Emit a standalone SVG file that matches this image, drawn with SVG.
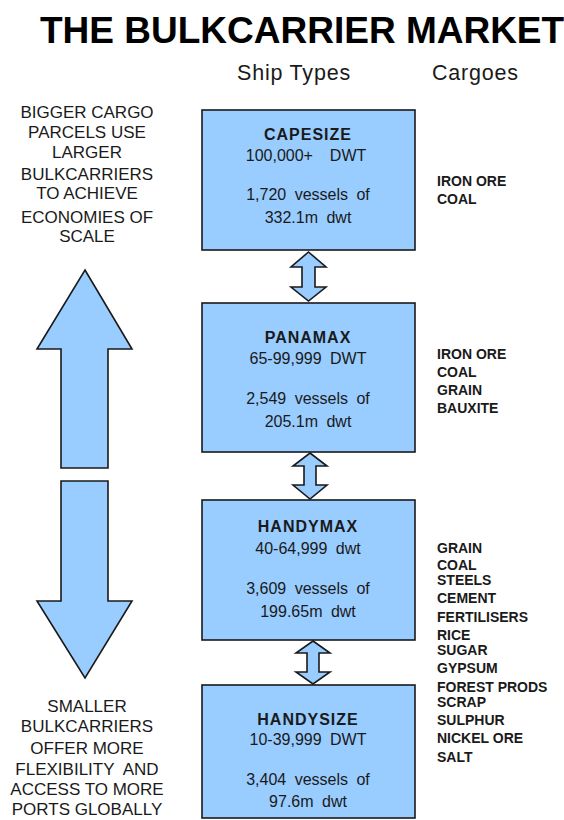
<svg xmlns="http://www.w3.org/2000/svg" width="564" height="820" viewBox="0 0 564 820">
  <style>
    text { font-family: "Liberation Sans", Arial, Helvetica, sans-serif; fill: #1a1a1a; }
    .title { font-size: 37px; font-weight: bold; fill: #000; }
    .head { font-size: 21.5px; letter-spacing: 0.8px; }
    .side { font-size: 17px; text-anchor: middle; }
    .box { fill: #99ccff; stroke: #1a1a1a; stroke-width: 1.6; }
    .arrow { fill: #99ccff; stroke: #1a1a1a; stroke-width: 1.6; stroke-linejoin: miter; }
    .name { font-size: 16px; font-weight: bold; text-anchor: middle; letter-spacing: 1px; }
    .info { font-size: 16px; text-anchor: middle; word-spacing: 4px; }
    .cargo { font-size: 14px; font-weight: bold; }
  </style>

  <!-- heading -->
  <text class="title" x="40" y="43">THE BULKCARRIER MARKET</text>
  <text class="head" x="237" y="80">Ship Types</text>
  <text class="head" x="432" y="80">Cargoes</text>

  <!-- left-hand commentary -->
  <g id="note-larger">
    <text class="side" x="87" y="118">BIGGER CARGO</text>
    <text class="side" x="87" y="138">PARCELS USE</text>
    <text class="side" x="87" y="158">LARGER</text>
    <text class="side" x="87" y="180">BULKCARRIERS</text>
    <text class="side" x="87" y="199">TO ACHIEVE</text>
    <text class="side" x="87" y="223">ECONOMIES OF</text>
    <text class="side" x="87" y="242">SCALE</text>
  </g>
  <g id="arrow-up">
    <polygon class="arrow" points="85,270 132,349 108,349 108,468 61,468 61,349 37,349"/>
  </g>
  <g id="arrow-down">
    <polygon class="arrow" points="61,481 108,481 108,601 132,601 85,678 37,601 61,601"/>
  </g>
  <g id="note-smaller">
    <text class="side" x="87" y="712">SMALLER</text>
    <text class="side" x="87" y="732">BULKCARRIERS</text>
    <text class="side" x="87" y="754">OFFER MORE</text>
    <text class="side" x="87" y="775" xml:space="preserve">FLEXIBILITY  AND</text>
    <text class="side" x="87" y="795">ACCESS TO MORE</text>
    <text class="side" x="87" y="815">PORTS GLOBALLY</text>
  </g>

  <!-- ship type boxes -->
  <g id="capesize">
    <rect class="box" x="202" y="110" width="213" height="140"/>
    <text class="name" x="308" y="140">CAPESIZE</text>
    <text class="info" x="306" y="161" xml:space="preserve">100,000+  DWT</text>
    <text class="info" x="308" y="200">1,720 vessels of</text>
    <text class="info" x="308" y="223">332.1m dwt</text>
  </g>
  <g id="panamax">
    <rect class="box" x="202" y="303" width="213" height="149"/>
    <text class="name" x="308" y="343">PANAMAX</text>
    <text class="info" x="308" y="364">65-99,999 DWT</text>
    <text class="info" x="308" y="404">2,549 vessels of</text>
    <text class="info" x="308" y="427">205.1m dwt</text>
  </g>
  <g id="handymax">
    <rect class="box" x="202" y="500" width="213" height="140"/>
    <text class="name" x="308" y="532">HANDYMAX</text>
    <text class="info" x="308" y="554">40-64,999 dwt</text>
    <text class="info" x="308" y="594">3,609 vessels of</text>
    <text class="info" x="308" y="617">199.65m dwt</text>
  </g>
  <g id="handysize">
    <rect class="box" x="202" y="685" width="213" height="133"/>
    <text class="name" x="308" y="725">HANDYSIZE</text>
    <text class="info" x="308" y="745">10-39,999 DWT</text>
    <text class="info" x="308" y="785">3,404 vessels of</text>
    <text class="info" x="308" y="807">97.6m dwt</text>
  </g>

  <!-- double-headed links between sizes -->
  <g id="connectors">
    <polygon class="arrow" points="308.5,252 326,267 315,267 315,287 326,287 308.5,301 291,287 302,287 302,267 291,267"/>
    <polygon class="arrow" points="310,453 327,466 316,466 316,485 327,485 310,499 293,485 304,485 304,466 293,466"/>
    <polygon class="arrow" points="313,641 330,653 319,653 319,672 330,672 313,684 296,672 307,672 307,653 296,653"/>
  </g>

  <!-- cargoes -->
  <g id="cargo-capesize">
    <text class="cargo" x="437" y="186">IRON ORE</text>
    <text class="cargo" x="437" y="204">COAL</text>
  </g>
  <g id="cargo-panamax">
    <text class="cargo" x="437" y="359">IRON ORE</text>
    <text class="cargo" x="437" y="377">COAL</text>
    <text class="cargo" x="437" y="395">GRAIN</text>
    <text class="cargo" x="437" y="413">BAUXITE</text>
  </g>
  <g id="cargo-handy">
    <text class="cargo" x="437" y="553">GRAIN</text>
    <text class="cargo" x="437" y="570">COAL</text>
    <text class="cargo" x="437" y="585">STEELS</text>
    <text class="cargo" x="437" y="603">CEMENT</text>
    <text class="cargo" x="437" y="622">FERTILISERS</text>
    <text class="cargo" x="437" y="640">RICE</text>
    <text class="cargo" x="437" y="655">SUGAR</text>
    <text class="cargo" x="437" y="673">GYPSUM</text>
    <text class="cargo" x="437" y="692">FOREST PRODS</text>
    <text class="cargo" x="437" y="707">SCRAP</text>
    <text class="cargo" x="437" y="725">SULPHUR</text>
    <text class="cargo" x="437" y="743">NICKEL ORE</text>
    <text class="cargo" x="437" y="762">SALT</text>
  </g>
</svg>
